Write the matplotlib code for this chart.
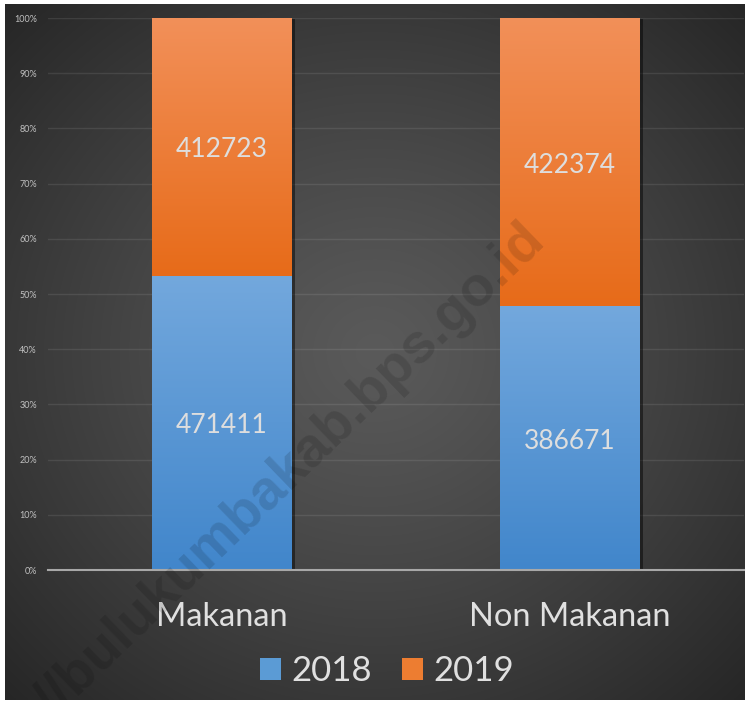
import numpy as np
import matplotlib
matplotlib.use('Agg')
import matplotlib.pyplot as plt
import matplotlib.patheffects as pe
from matplotlib.patches import Patch

categories = ['Makanan', 'Non Makanan']
years = ['2018', '2019']
values_2018 = [471411, 386671]
values_2019 = [412723, 422374]

W, H = 751, 702
fig = plt.figure(figsize=(W / 100, H / 100), dpi=100, facecolor='white')

# dark background with a soft radial glow
bg = fig.add_axes([5 / W, 2 / H, 740 / W, 696 / H], zorder=0)
yy, xx = np.mgrid[0:1:400j, 0:1:400j]
r = np.sqrt(((xx - 0.5) / 0.72) ** 2 + ((yy - 0.5) / 0.72) ** 2)
r = np.clip(r, 0, 1)
c_in, c_out = np.array([0x5a, 0x5a, 0x5a]) / 255, np.array([0x25, 0x25, 0x25]) / 255
img = c_in + (c_out - c_in) * r[..., None] ** 1.2
bg.imshow(img, extent=[0, 1, 0, 1], aspect='auto', interpolation='bilinear')
bg.set_axis_off()

ax = fig.add_axes([48 / W, (H - 570) / H, (744 - 48) / W, 552 / H], zorder=1)
ax.set_facecolor('none')

totals = np.array(values_2018) + np.array(values_2019)
share_2018 = np.array(values_2018) / totals
share_2019 = np.array(values_2019) / totals
x = np.arange(len(categories))
width = 0.402

grads = {
    '2018': ('#73a8dd', '#4186cb'),
    '2019': ('#f29059', '#e76b19'),
}

def gradient_bars(bars, top, bottom):
    t = np.array(matplotlib.colors.to_rgb(top))
    b = np.array(matplotlib.colors.to_rgb(bottom))
    g = np.linspace(0, 1, 256)[:, None, None]
    arr = t + (b - t) * g
    for p in bars:
        x0, y0 = p.get_x(), p.get_y()
        w, h = p.get_width(), p.get_height()
        p.set_path_effects([pe.SimplePatchShadow(offset=(2.5, -1), alpha=0.45, shadow_rgbFace='black'), pe.Normal()])
        p.set_zorder(2)
        ax.imshow(arr, extent=[x0, x0 + w, y0, y0 + h], aspect='auto', zorder=3, interpolation='bilinear')

b1 = ax.bar(x, share_2018, width, color='#5b9bd5', linewidth=0)
b2 = ax.bar(x, share_2019, width, bottom=share_2018, color='#ed7d31', linewidth=0)
gradient_bars(b1, *grads['2018'])
gradient_bars(b2, *grads['2019'])

font = 'Lato'
for i in range(len(categories)):
    ax.annotate(str(values_2018[i]), (x[i], share_2018[i] / 2), xytext=(0, -2.2), textcoords='offset points',
                ha='center', va='center', fontsize=19, color='#dedede', family=font, zorder=5)
    ax.annotate(str(values_2019[i]), (x[i], share_2018[i] + share_2019[i] / 2), xytext=(0, -2.2),
                textcoords='offset points', ha='center', va='center', fontsize=19, color='#dedede',
                family=font, zorder=5)

ax.set_xlim(-0.5, 1.5)
ax.set_ylim(0, 1)
ticks = np.arange(0, 1.01, 0.1)
ax.set_yticks(ticks)
ax.set_yticklabels([f'{int(round(t * 100))}%' for t in ticks], fontsize=6.5, color='#c0c0c0', family=font)
ax.yaxis.grid(True, color='#ffffff', alpha=0.09, linewidth=1)
ax.set_axisbelow(True)
ax.tick_params(axis='y', length=0, pad=8)
ax.set_xticks(x)
ax.set_xticklabels(categories, fontsize=23.5, color='#e0e0e0', family=font)
ax.tick_params(axis='x', length=0, pad=23)
for s in ['top', 'right', 'left']:
    ax.spines[s].set_visible(False)
ax.spines['bottom'].set_color('#a8a8a8')
ax.spines['bottom'].set_linewidth(1.5)
ax.spines['bottom'].set_zorder(4)

handles = [Patch(facecolor='#5b9bd5', label=years[0]), Patch(facecolor='#ed7d31', label=years[1])]
leg = fig.legend(handles=handles, loc='center', bbox_to_anchor=(387 / W, (H - 671) / H), ncol=2,
                 frameon=False, prop={'family': font, 'size': 25}, labelcolor='#e0e0e0',
                 handlelength=0.6, handleheight=0.6, handletextpad=0.3, columnspacing=0.85)

wm = fig.text(246 / W, (H - 512) / H, 'http://bulukumbakab.bps.go.id', rotation=44, rotation_mode='anchor',
              ha='center', va='center', fontsize=40, fontweight='bold', family='Liberation Sans',
              color='black', alpha=0.13, zorder=10)
wm.set_clip_path(bg.patch)

fig.savefig('out.png', dpi=100, facecolor='white')
